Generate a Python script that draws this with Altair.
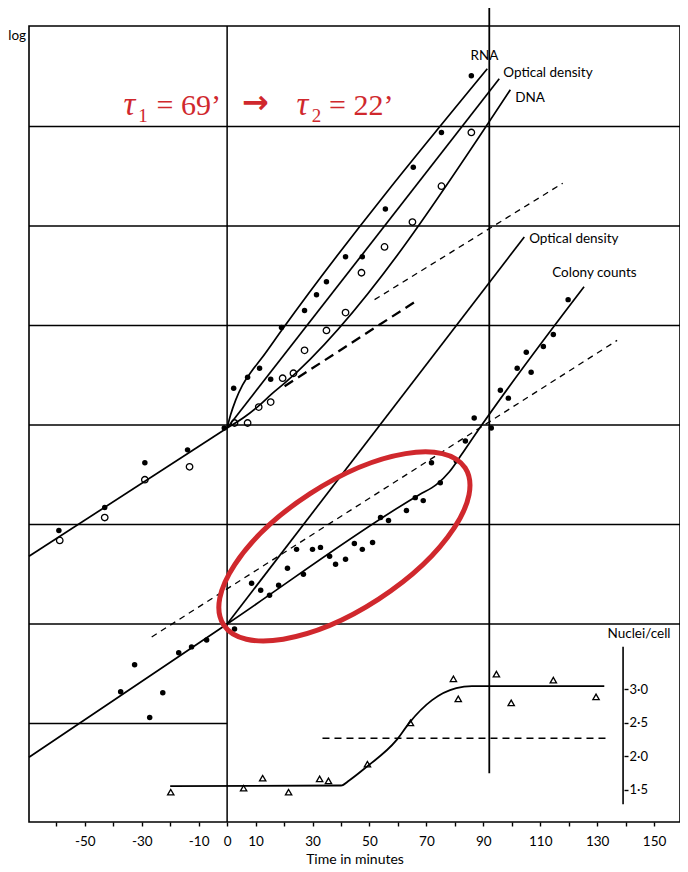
import altair as alt
import pandas as pd

# ---------------- values (x: minutes, y: log units) ----------------
# filled dots (RNA / optical density), upper family
dot_t = [-59.1, -43.0, -28.9, -13.9, -1.0, 2.3, 7.2, 11.4, 15.3, 19.1, 27.2, 31.4, 34.9, 41.6, 47.5, 55.6, 65.4, 75.3, 85.8]
dot_y = [0.94, 1.17, 1.62, 1.75, 1.97, 2.37, 2.48, 2.57, 2.46, 2.98, 3.15, 3.31, 3.44, 3.69, 3.69, 4.17, 4.59, 4.94, 5.51]
# open circles (DNA)
dna_t = [-58.8, -43.0, -28.9, -13.2, 2.6, 7.2, 11.1, 15.3, 19.5, 23.3, 27.2, 34.9, 41.6, 47.2, 55.3, 65.1, 75.3, 85.8]
dna_y = [0.84, 1.07, 1.45, 1.58, 2.02, 2.02, 2.18, 2.23, 2.47, 2.52, 2.75, 2.95, 3.13, 3.53, 3.79, 4.04, 4.40, 4.94]
# colony counts (filled dots), lower family
col_t = [-37.4, -32.5, -27.2, -22.6, -17.0, -12.5, -7.2, 2.6, 8.6, 11.8, 14.9, 18.1, 21.2, 24.4, 26.8, 30.0,
         32.8, 36.0, 38.1, 41.6, 44.7, 47.5, 51.1, 53.9, 56.7, 63.0, 66.1, 68.9, 71.8, 74.9, 80.5, 83.7,
         86.8, 92.8, 96.0, 98.8, 101.9, 105.1, 106.8, 111.1, 114.6, 119.8]
col_y = [-0.68, -0.41, -0.94, -0.69, -0.29, -0.23, -0.16, -0.05, 0.41, 0.34, 0.29, 0.39, 0.56, 0.75, 0.50, 0.75,
         0.77, 0.68, 0.60, 0.65, 0.81, 0.75, 0.82, 1.07, 1.04, 1.14, 1.27, 1.24, 1.62, 1.42, 1.64, 1.84,
         2.07, 1.97, 2.35, 2.27, 2.57, 2.73, 2.53, 2.79, 2.91, 3.26]
# nuclei per cell (open triangles)
nuc_t = [-19.8, 5.8, 12.5, 21.6, 32.5, 35.6, 49.3, 64.4, 79.5, 81.2, 94.6, 99.8, 114.6, 129.6]
nuc_n = [1.46, 1.52, 1.67, 1.46, 1.66, 1.63, 1.88, 2.50, 3.16, 2.86, 3.23, 2.80, 3.14, 2.89]

# drawn curves / fitted lines
pre_t, pre_y = [-69.6, 0.0], [0.68, 1.97]
rna_t = [0.0, 1.2, 3.0, 5.4, 8.6, 12.1, 19.1, 91.4]
rna_y = [1.97, 2.10, 2.25, 2.40, 2.54, 2.67, 2.95, 5.58]
odu_t, odu_y = [0.0, 95.6], [1.97, 5.48]
dnal_t = [0.0, 6.1, 11.4, 15.6, 20.2, 99.5]
dnal_y = [1.97, 2.08, 2.20, 2.31, 2.42, 5.37]
colline_t = [-69.6, 0.0, 67.5, 73.5, 78.1, 82.3, 86.8, 125.4]
colline_y = [-1.34, 0.0, 1.30, 1.40, 1.53, 1.70, 1.89, 3.39]
odl_t, odl_y = [0.0, 104.4], [0.0, 3.89]
thick_dash_t, thick_dash_y = [20.2, 66.1], [2.39, 3.24]
up_dash_t, up_dash_y = [51.8, 117.9], [3.26, 4.43]
col_dash_t, col_dash_y = [-26.5, 137.0], [-0.13, 2.85]
nucline_t = [-20.0, 40.0, 43.0, 49.0, 59.5, 64.0, 72.0, 80.5, 86.0, 132.5]
nucline_n = [1.55, 1.56, 1.64, 1.84, 2.24, 2.50, 2.84, 3.02, 3.05, 3.05]
nuc_dash_t, nuc_dash_n = [33.5, 134.0], [2.27, 2.27]

# frame / reference lines
grid_y = [0, 1, 2, 3, 4, 5]
half_grid = {"t": -69.6, "t2": 0.0, "y": -1.0}
vline_t = [0.0]
shift_line = {"t": 92.1, "y": -1.50, "y2": 6.3}
nuc_axis = {"t": 139.1, "n": 1.28, "n2": 3.64}

tick_vals = list(range(-60, 160, 10))
label_vals = [-50, -30, -10, 0, 10, 30, 50, 70, 90, 110, 130, 150]
nuc_ticks = [1.5, 2.0, 2.5, 3.0]

X_DOMAIN = [-69.6, 159.1]
Y_DOMAIN = [-1.99, 6.01]
N_DOMAIN = [1.013, 12.948]

# annotation texts (position in data units)
labels_left = pd.DataFrame({
    "t": [97.0, 101.2, 106.1, 114.2, -76.9],
    "y": [5.54, 5.29, 3.87, 3.53, 5.91],
    "text": ["Optical density", "DNA", "Optical density", "Colony counts", "log"],
})
labels_center = pd.DataFrame({
    "t": [90.4, 144.7],
    "y": [5.71, -0.10],
    "text": ["RNA", "Nuclei/cell"],
})
red_main = pd.DataFrame({"t": [-24.8, 35.8], "y": [5.12, 5.12], "text": ["= 69\u2019", "= 22\u2019"]})
red_tau = pd.DataFrame({"t": [-36.4, 24.4], "y": [5.12, 5.12], "text": ["\u03c4", "\u03c4"]})
red_sub = pd.DataFrame({"t": [-31.2, 29.7], "y": [5.05, 5.05], "text": ["1", "2"]})
red_arrow = pd.DataFrame({"t": [5.2], "y": [5.24], "text": ["\u2192"]})
ellipse = pd.DataFrame({"t": [41.2], "y": [0.78]})

RED = "#d0282d"
FONT = "Lato"

# ---------------- encodings ----------------
label_expr = (f"indexof({label_vals}, datum.value) >= 0 ? "
              "(datum.value < 0 ? '-' + abs(datum.value) : '' + datum.value) : ''")

X = alt.X("t:Q", scale=alt.Scale(domain=X_DOMAIN, nice=False, zero=False),
          axis=alt.Axis(values=tick_vals, labelExpr=label_expr, tickSize=4, tickWidth=1.4,
                        tickColor="black", domain=False, grid=False, title="Time in minutes",
                        labelFont=FONT, labelFontSize=13.5, labelColor="black", labelPadding=8,
                        labelFlush=False, titleFont=FONT, titleFontSize=14, titleFontWeight="normal",
                        titleColor="black", titlePadding=5))
Y = alt.Y("y:Q", scale=alt.Scale(domain=Y_DOMAIN, nice=False, zero=False), axis=None)
X2 = alt.X2("t2")
NY = alt.Y("n:Q", scale=alt.Scale(domain=N_DOMAIN, nice=False, zero=False),
           axis=alt.Axis(orient="right", offset=-56, values=nuc_ticks, domain=False, grid=False,
                         tickSize=4, tickWidth=1.4, tickColor="black", title=None,
                         labelExpr="replace(format(datum.value, '.1f'), '.', '\u00b7')",
                         labelFont=FONT, labelFontSize=13, labelColor="black", labelPadding=1))


def series(name, ts, ys):
    return pd.DataFrame({"t": ts, "y": ys, "series": name, "i": range(len(ts))})


solid = pd.concat([
    series("pre", pre_t, pre_y), series("rna", rna_t, rna_y), series("odu", odu_t, odu_y),
    series("dna", dnal_t, dnal_y), series("colony", colline_t, colline_y), series("odl", odl_t, odl_y),
])
thin_dash = pd.concat([series("up", up_dash_t, up_dash_y), series("col", col_dash_t, col_dash_y)])
thick_dash = series("thick", thick_dash_t, thick_dash_y)

grid = alt.Chart(pd.DataFrame({"y": grid_y})).mark_rule(color="black", strokeWidth=1.5).encode(y=Y)
vgrid = alt.Chart(pd.DataFrame({"t": vline_t})).mark_rule(color="black", strokeWidth=1.5).encode(x=X)
hhalf = alt.Chart(pd.DataFrame([half_grid])).mark_rule(color="black", strokeWidth=1.5).encode(x=X, x2=X2, y=Y)
shift = alt.Chart(pd.DataFrame([shift_line])).mark_rule(color="black", strokeWidth=1.8, clip=False).encode(
    x=X, y=Y, y2=alt.Y2("y2"))

solid_l = alt.Chart(solid).mark_line(color="black", strokeWidth=1.7, interpolate="monotone").encode(
    x=X, y=Y, detail="series:N", order="i:Q")
thin_l = alt.Chart(thin_dash).mark_line(color="black", strokeWidth=1.3, strokeDash=[6, 5]).encode(
    x=X, y=Y, detail="series:N", order="i:Q")
thick_l = alt.Chart(thick_dash).mark_line(color="black", strokeWidth=2.3, strokeDash=[10, 6]).encode(
    x=X, y=Y, order="i:Q")

dots = alt.Chart(pd.DataFrame({"t": dot_t + col_t, "y": dot_y + col_y})).mark_circle(
    color="black", size=30, opacity=1).encode(x=X, y=Y)
opens = alt.Chart(pd.DataFrame({"t": dna_t, "y": dna_y})).mark_point(
    shape="circle", filled=False, color="black", size=42, strokeWidth=1.3, opacity=1).encode(x=X, y=Y)

ELLIPSE_PATH = "M -1 0 A 1 0.437 0 1 1 1 0 A 1 0.437 0 1 1 -1 0 Z"
ell = alt.Chart(ellipse).mark_point(shape=ELLIPSE_PATH, size=82944, angle=327, filled=False,
                                    stroke=RED, strokeWidth=5, opacity=1).encode(x=X, y=Y)

txt_left = alt.Chart(labels_left).mark_text(font=FONT, fontSize=13.5, color="black", align="left",
                                            baseline="middle", clip=False).encode(x=X, y=Y, text="text:N")
txt_center = alt.Chart(labels_center).mark_text(font=FONT, fontSize=13.5, color="black", align="center",
                                                baseline="middle", clip=False).encode(x=X, y=Y, text="text:N")
r_main = alt.Chart(red_main).mark_text(font="Liberation Serif", fontSize=30, color=RED, align="left",
                                       baseline="alphabetic").encode(x=X, y=Y, text="text:N")
r_tau = alt.Chart(red_tau).mark_text(font="Liberation Serif", fontSize=33, fontStyle="italic", color=RED,
                                     align="left", baseline="alphabetic").encode(x=X, y=Y, text="text:N")
r_sub = alt.Chart(red_sub).mark_text(font="Liberation Serif", fontSize=19, color=RED, align="left",
                                     baseline="alphabetic").encode(x=X, y=Y, text="text:N")
r_arrow = alt.Chart(red_arrow).mark_text(font="DejaVu Sans", fontSize=32, fontWeight="bold", color=RED,
                                         align="left", baseline="middle").encode(x=X, y=Y, text="text:N")

main = alt.layer(grid, vgrid, hhalf, shift, solid_l, thin_l, thick_l, dots, opens, ell,
                 txt_left, txt_center, r_main, r_tau, r_sub, r_arrow)

nuc_pts = alt.Chart(pd.DataFrame({"t": nuc_t, "n": nuc_n})).mark_point(
    shape="triangle-up", filled=False, color="black", size=40, strokeWidth=1.3, opacity=1).encode(x=X, y=NY)
nuc_line = alt.Chart(pd.DataFrame({"t": nucline_t, "n": nucline_n, "i": range(len(nucline_t))})).mark_line(
    color="black", strokeWidth=1.8, interpolate="monotone").encode(x=X, y=NY, order="i:Q")
nuc_dash = alt.Chart(pd.DataFrame({"t": nuc_dash_t, "n": nuc_dash_n})).mark_line(
    color="black", strokeWidth=1.5, strokeDash=[7, 5]).encode(x=X, y=NY)
nuc_ax = alt.Chart(pd.DataFrame([nuc_axis])).mark_rule(color="black", strokeWidth=1.6).encode(
    x=X, y=NY, y2=alt.Y2("n2"))
nuc = alt.layer(nuc_pts, nuc_line, nuc_dash, nuc_ax)

chart = alt.layer(main, nuc).resolve_scale(y="independent").properties(
    width=651, height=796,
    autosize=alt.AutoSizeParams(type="none"),
    padding={"left": 21, "top": 18, "right": 0, "bottom": 46},
).configure_view(stroke="black", strokeWidth=1.6)

chart.save("out.html", embed_options={"renderer": "svg", "actions": False})
